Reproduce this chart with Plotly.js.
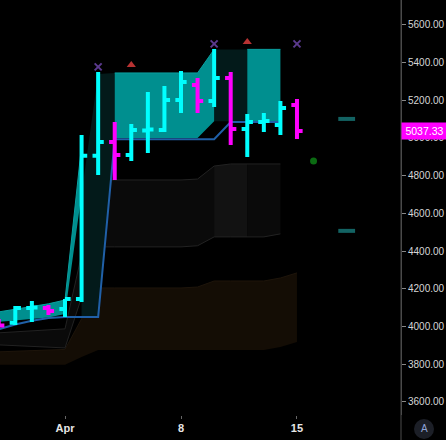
<!DOCTYPE html>
<html><head><meta charset="utf-8">
<script src="https://cdn.plot.ly/plotly-3.0.1.min.js"></script>
<style>html,body{margin:0;padding:0;background:#000;}#chart{width:446px;height:440px;}</style>
</head><body><div id="chart"></div>
<script>
// ---- OHLC data ----
const dates = ['2024-03-28','2024-03-29','2024-03-30','2024-03-31','2024-04-01','2024-04-02','2024-04-03','2024-04-04','2024-04-05','2024-04-06','2024-04-07','2024-04-08','2024-04-09','2024-04-10','2024-04-11','2024-04-12','2024-04-13','2024-04-14','2024-04-15'];
const openV  = [4030, 4019, 4098, 4098, 4093, 4146, 4905, 4979, 4910, 5040, 5042, 5202, 5281, 5196, 5318, 5048, 5085, 5069, 5175];
const highV  = [4040, 4109, 4135, 4114, 4146, 5016, 5350, 5085, 5074, 5244, 5276, 5355, 5318, 5472, 5350, 5127, 5133, 5196, 5207];
const lowV   = [3995, 4008, 4024, 4061, 4050, 4130, 4804, 4777, 4878, 4920, 5032, 5133, 5133, 5164, 4963, 4899, 5032, 5016, 4995];
const closeV = [4005, 4098, 4100, 4082, 4146, 4905, 4979, 4910, 5042, 5045, 5202, 5297, 5196, 5318, 5048, 5085, 5090, 5159, 5037.33];

// ---- cloud zones (Mar28..Apr14), null = zone absent ----
const cloudDates = dates.slice(0, 18);
const bullUpper = [4077, 4090, 4105, 4120, 4140, 4960, null, 5345, 5345, 5345, 5345, 5345, 5345, 5470, null, 5470, 5470, 5470];
const bullLower = [4024, 4030, 4040, 4048, 4066, 4703, null, 5000, 5000, 5000, 5000, 5000, 5000, 5088, null, 5088, 5088, 5088];
const bearUpper = [null, null, null, null, null, 4703, 5340, 5345, null, null, null, null, null, 5470, 5470, 5470, null, null];
const bearLower = [null, null, null, null, null, 4050, 4050, 5000, null, null, null, null, null, 5088, 5088, 5088, null, null];

// ---- blue base line (Mar28..Apr14) ----
const baseLine = [3985, 4010, 4030, 4045, 4050, 4050, 4050, 4993, 4993, 4993, 4993, 4993, 4993, 4993, 5085, 5085, 5085, 5085];

// ---- gray band (Mar28..Apr14) ----
const grayTop = [3966, 3972, 3978, 3983, 3987, 4380, 4777, 4777, 4777, 4777, 4777, 4777, 4782, 4851, 4862, 4862, 4862, 4862];
const grayBot = [3902, 3898, 3894, 3890, 3886, 4155, 4422, 4422, 4422, 4422, 4422, 4422, 4428, 4475, 4475, 4475, 4475, 4491];
const grayShade = [0, 0, 0, 0, 0, 0, 0, 0, 0, 0, 0, 0, 0, 1, 1, 0, 0];

// ---- brown band (Mar28..Apr15) ----
const brownTop = [3865, 3868, 3871, 3874, 3878, 4040, 4204, 4204, 4204, 4204, 4204, 4204, 4209, 4241, 4241, 4241, 4241, 4257, 4284];
const brownBot = [3796, 3796, 3796, 3796, 3796, 3838, 3875, 3875, 3875, 3875, 3875, 3875, 3875, 3875, 3875, 3875, 3875, 3891, 3918];

// ---- signal markers ----
const crossDates = ['2024-04-03', '2024-04-10', '2024-04-15'];
const crossVals  = [5377, 5499, 5499];
const triDates   = ['2024-04-05', '2024-04-12'];
const triVals    = [5387, 5509];
const dotDates   = ['2024-04-16'];
const dotVals    = [4878];
const dashDates  = ['2024-04-18', '2024-04-18'];
const dashVals   = [5101, 4507];

const lastPrice = closeV[closeV.length - 1];
const xTickVals = ['2024-04-01', '2024-04-08', '2024-04-15'];
const xTickText = ['Apr', '8', '15'];

function poly(xx, uu, ll, color) {
  return {
    type: 'scatter', mode: 'lines', hoverinfo: 'skip', showlegend: false,
    x: xx.concat(xx.slice().reverse()), y: uu.concat(ll.slice().reverse()),
    fill: 'toself', fillcolor: color, line: {width: 0}
  };
}
// polygons over contiguous non-null runs
function zoneTraces(xs, up, lo, color) {
  const out = [];
  let s = -1;
  for (let i = 0; i <= xs.length; i++) {
    const ok = i < xs.length && up[i] !== null;
    if (ok && s < 0) s = i;
    if (!ok && s >= 0) {
      out.push(poly(xs.slice(s, i), up.slice(s, i), lo.slice(s, i), color));
      s = -1;
    }
  }
  return out;
}
// polygons grouped by runs of the same shade flag
function shadeTraces(xs, up, lo, flags, colors) {
  const out = [];
  let s = 0;
  for (let i = 1; i <= flags.length; i++) {
    if (i === flags.length || flags[i] !== flags[s]) {
      out.push(poly(xs.slice(s, i + 1), up.slice(s, i + 1), lo.slice(s, i + 1), colors[flags[s]]));
      s = i;
    }
  }
  return out;
}
function edge(xs, ys, color, w) {
  return {type: 'scatter', mode: 'lines', x: xs, y: ys, hoverinfo: 'skip', showlegend: false,
    connectgaps: false, line: {color: color, width: w}};
}

const traces = [];
// brown band
traces.push(...shadeTraces(dates, brownTop, brownBot, new Array(dates.length - 1).fill(0), ['#140d05']));
traces.push(edge(dates, brownTop, '#1e150b', 1));
// gray band
traces.push(...shadeTraces(cloudDates, grayTop, grayBot, grayShade, ['#0a0a0a', '#121212']));
traces.push(edge(cloudDates, grayTop, '#222222', 1));
traces.push(edge(cloudDates, grayBot, '#222222', 1));
// cloud zones
traces.push(...zoneTraces(cloudDates, bearUpper, bearLower, '#031a1a'));
traces.push(...zoneTraces(cloudDates, bullUpper, bullLower, '#008f8f'));
traces.push(edge(cloudDates, bullUpper, '#0aa0a0', 1));
// blue base line
traces.push(edge(cloudDates, baseLine, '#2060a8', 2));

// OHLC + markers on an overlaying subplot so they draw above the bands
traces.push({
  type: 'ohlc', x: dates, open: openV, high: highV, low: lowV, close: closeV,
  xaxis: 'x2', yaxis: 'y2',
  increasing: {line: {color: '#00ffff', width: 4}},
  decreasing: {line: {color: '#ff00ff', width: 4}},
  tickwidth: 0.34, hoverinfo: 'skip', showlegend: false
});
traces.push({type: 'scatter', mode: 'markers', x: crossDates, y: crossVals, xaxis: 'x2', yaxis: 'y2',
  showlegend: false, hoverinfo: 'skip',
  marker: {symbol: 'x-thin', size: 7, line: {color: '#5b3a8e', width: 2}}});
traces.push({type: 'scatter', mode: 'markers', x: triDates, y: triVals, xaxis: 'x2', yaxis: 'y2',
  showlegend: false, hoverinfo: 'skip',
  marker: {symbol: 'triangle-up', size: 8, color: '#b83232'}});
traces.push({type: 'scatter', mode: 'markers', x: dotDates, y: dotVals, xaxis: 'x2', yaxis: 'y2',
  showlegend: false, hoverinfo: 'skip',
  marker: {symbol: 'circle', size: 7, color: '#0b6b12'}});
traces.push({type: 'scatter', mode: 'markers', x: dashDates, y: dashVals, xaxis: 'x2', yaxis: 'y2',
  showlegend: false, hoverinfo: 'skip',
  marker: {symbol: 'line-ew', size: 12, line: {color: '#136363', width: 4}}});

const xRange = ['2024-03-28 01:50', '2024-04-21 06:40'];
const yRange = [3530, 5732];
const font = 'Liberation Sans, Arial, sans-serif';

const layout = {
  width: 446, height: 440,
  margin: {l: 0, r: 45, t: 0, b: 25},
  paper_bgcolor: '#000', plot_bgcolor: '#000',
  showlegend: false,
  xaxis: {
    type: 'date', range: xRange,
    rangeslider: {visible: false},
    showgrid: false, zeroline: false, showline: false,
    tickvals: xTickVals, ticktext: xTickText,
    ticks: 'outside', ticklen: 3, tickcolor: '#666',
    tickfont: {family: font, size: 11, color: '#e6e6e6', weight: 'bold'}
  },
  xaxis2: {
    type: 'date', range: xRange, overlaying: 'x', visible: false,
    rangeslider: {visible: false}, showgrid: false, zeroline: false
  },
  yaxis: {
    side: 'right', range: yRange,
    showgrid: false, zeroline: false,
    showline: true, linecolor: '#4a4a4a', linewidth: 1,
    dtick: 200, tick0: 0, tickformat: '.2f',
    ticks: 'outside', ticklen: 4, tickcolor: '#888',
    tickfont: {family: font, size: 10, color: '#d6d6d6'}
  },
  yaxis2: {
    range: yRange, overlaying: 'y', side: 'right', visible: false,
    showgrid: false, zeroline: false
  },
  shapes: [
    {type: 'line', xref: 'paper', yref: 'paper', x0: 1, x1: 1, y0: -0.07, y1: 1, line: {color: '#4a4a4a', width: 1}},
    {type: 'circle', xref: 'paper', yref: 'paper', x0: 414 / 401, x1: 434 / 401, y0: -24 / 415, y1: -4 / 415,
      fillcolor: '#1c1f27', line: {width: 0}}
  ],
  annotations: [
    {xref: 'paper', yref: 'y', x: 1, y: lastPrice, xanchor: 'left', yanchor: 'middle',
      text: lastPrice.toFixed(2), showarrow: false, bgcolor: '#ff00ff', borderpad: 2, width: 41,
      font: {family: font, size: 10.5, color: '#ffffff'}},
    {xref: 'paper', yref: 'paper', x: 424 / 401, y: -14 / 415, xanchor: 'center', yanchor: 'middle',
      text: 'A', showarrow: false, font: {family: font, size: 10, color: '#8fa3d6'}}
  ]
};

Plotly.newPlot('chart', traces, layout, {staticPlot: true, displayModeBar: false});
</script>
</body></html>
